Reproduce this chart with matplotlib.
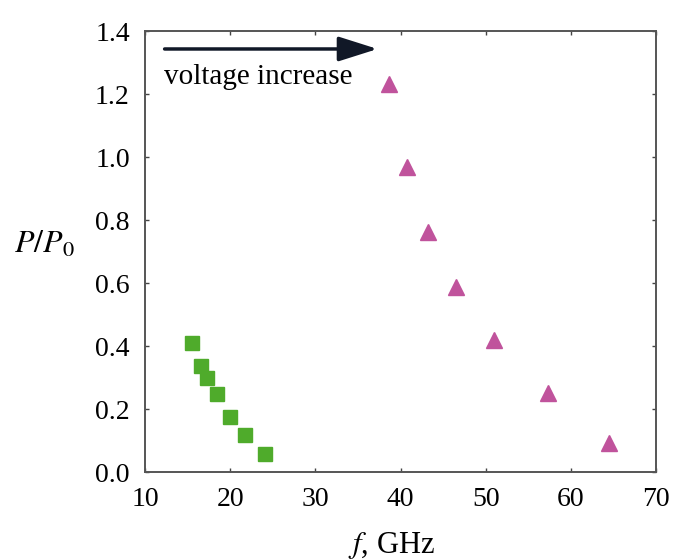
import matplotlib
matplotlib.use("Agg")
import matplotlib.pyplot as plt

plt.rcParams['font.family'] = ['Liberation Serif', 'DejaVu Serif']
plt.rcParams['mathtext.fontset'] = 'stix'

# green squares
sq_f = [15.5, 16.6, 17.3, 18.5, 20.0, 21.7, 24.1]
sq_p = [0.41, 0.337, 0.298, 0.248, 0.175, 0.117, 0.057]

# magenta triangles
tri_f = [38.6, 40.8, 43.2, 46.5, 51.0, 57.3, 64.5]
tri_p = [1.232, 0.968, 0.762, 0.587, 0.419, 0.251, 0.092]

xticks = [10, 20, 30, 40, 50, 60, 70]
yticks = [0.0, 0.2, 0.4, 0.6, 0.8, 1.0, 1.2, 1.4]

fig = plt.figure(figsize=(6.77, 5.59), dpi=100)
ax = fig.add_axes([0.2142, 0.1556, 0.7548, 0.7889])

ax.plot(sq_f, sq_p, 's', color='#4fab2b', ms=10, mec='#4fab2b', clip_on=False)
ax.plot(tri_f, tri_p, '^', color='#c0539c', ms=11, mec='#c0539c', clip_on=False)

ax.set_xlim(10, 70)
ax.set_ylim(0, 1.4)
ax.set_xticks(xticks)
ax.set_yticks(yticks)
ax.set_xticklabels([str(t) for t in xticks])
ax.set_yticklabels(['%.1f' % t for t in yticks])
ax.tick_params(direction='in', length=3, width=1, top=True, right=True,
               labelsize=20, pad=11, color='#444444')
for s in ax.spines.values():
    s.set_color('#555555')
    s.set_linewidth(1.4)

# arrow and label
ax.annotate('', xy=(37.3, 1.343), xytext=(12.3, 1.343),
            arrowprops=dict(arrowstyle='-|>,head_length=1.2,head_width=0.38',
                            mutation_scale=20, color='#111827', lw=2.5,
                            shrinkA=0, shrinkB=0))
ax.text(12.2, 1.255, 'voltage increase', fontsize=21, va='center', ha='left')

fig.text(0.065, 0.562, '$P/P_0$', fontsize=23, ha='center', va='center')
fig.text(0.579, 0.025, '$f$, GHz', fontsize=22, ha='center', va='center')

fig.savefig('out.png', dpi=100)
